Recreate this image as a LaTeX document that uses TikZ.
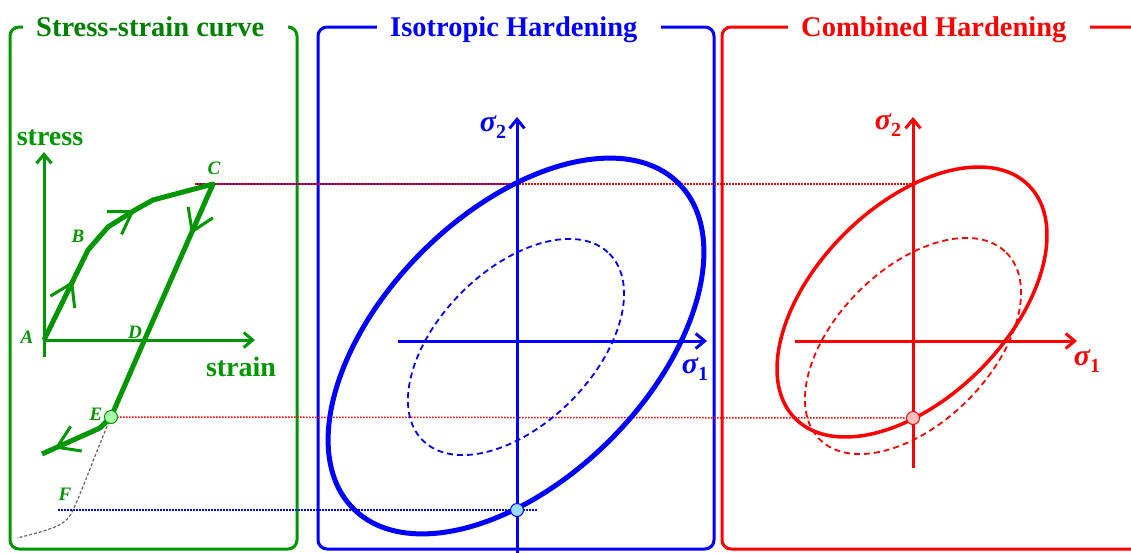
\documentclass[tikz,border=0pt]{standalone}
\usepackage{fontspec}
\setmainfont{Liberation Serif}
\usetikzlibrary{arrows.meta,calc,decorations.markings}
\definecolor{curveGreen}{RGB}{0,150,0}
\definecolor{titleGreen}{RGB}{0,128,0}
\definecolor{isoBlue}{RGB}{0,0,255}
\definecolor{combRed}{RGB}{255,0,0}
\definecolor{pathGray}{RGB}{100,100,100}
\newcommand{\sigmalab}[1]{\fontsize{30}{30}\selectfont\bfseries\itshape σ\raisebox{-7pt}{\upshape\fontsize{20}{20}\selectfont #1}}

\begin{document}
\begin{tikzpicture}[x=1pt,y=-1pt,
  frame/.style={line width=3pt,rounded corners=9pt},
  paneltitle/.style={anchor=base west,fill=white,inner xsep=13pt,inner ysep=3pt,font=\fontsize{28.5}{30}\selectfont\bfseries},
  axis/.style={line width=3pt,-{Straight Barb[length=9pt,width=15pt]}},
  axislabel/.style={font=\fontsize{28}{30}\selectfont\bfseries,text=curveGreen,inner sep=0pt},
  ptlabel/.style={font=\fontsize{19}{19}\selectfont\bfseries\itshape,text=curveGreen,inner sep=0pt},
  siglabel/.style={inner sep=0pt},
  tickat/.style={postaction={decorate,decoration={markings,mark=at position #1 with {\arrow[line width=3pt]{Straight Barb[length=21pt,width=27pt]}}}}},
  loading/.style={line width=5pt,line join=round,curveGreen},
  surface/.style={line width=#1},
  initial/.style={line width=1.8pt,dash pattern=on 6pt off 4pt},
  dotline/.style={line width=1.5pt,dash pattern=on 1.5pt off 1.5pt},
  hitpt/.style={circle,minimum size=13pt,inner sep=0pt,line width=1pt}
]
\useasboundingbox (0,0) rectangle (1131,552);
\clip (0,0) rectangle (1131,552);

\draw[frame,curveGreen] (10,27) rectangle (297,549);
\draw[frame,isoBlue] (318,27) rectangle (714,549);
\draw[frame,combRed] (722,27) rectangle (1170,549);
\node[paneltitle,text=titleGreen] (sstitle) at (23,36) {Stress-strain curve\hspace*{11pt}};
\node[paneltitle,text=isoBlue] (isotitle) at (377,36) {Isotropic Hardening\hspace*{11pt}};
\node[paneltitle,text=combRed] (combtitle) at (788,36) {Combined Hardening\hspace*{11pt}};

\coordinate (A) at (44,340);
\coordinate (B) at (88,250);
\coordinate (C) at (213,184);
\coordinate (D) at (144.5,340);
\coordinate (E) at (111,417);
\coordinate (F) at (73,510);
\coordinate (Cl) at (195,184);
\coordinate (Fl) at (58,510);
\coordinate (isoTop) at (517,184);
\coordinate (isoBot) at (517,510);
\coordinate (isoEnd) at (537,510);
\coordinate (combTop) at (913,184);
\coordinate (combBot) at (913,418);

\draw[dotline,combRed] (Cl) -- (combTop);
\draw[dotline,isoBlue,dash phase=1.5pt] (Cl) -- (isoTop);
\draw[dotline,combRed] (E) -- (combBot);
\draw[dotline,isoBlue] (Fl) -- (isoEnd);

\draw[axis,curveGreen] (44,357) -- (44,152);
\draw[axis,curveGreen] (A) -- (255,340);
\node[axislabel] (stress) at (50,138) {stress};
\node[axislabel] (strain) at (241,367) {strain};

\draw[pathGray,line width=1.2pt,dash pattern=on 3pt off 2pt] (E) .. controls (96,452) and (80,496) .. (F) .. controls (67,524) and (58,528) .. (17,538);
\draw[loading,tickat=66pt,tickat=162pt,tickat=300pt,tickat=565pt] (A) -- (B) -- (108,227) -- (135,210) -- (153,200) -- (C) -- (D) -- (E) -- (100,428) -- (42,454);
\node[hitpt,draw=curveGreen,fill=green!35] (Ept) at (E) {};

\node[ptlabel] (lA) at (27,337) {A};
\node[ptlabel] (lB) at (78,236) {B};
\node[ptlabel] (lC) at (214,168) {C};
\node[ptlabel] (lD) at (135,332) {D};
\node[ptlabel] (lE) at (96,414) {E};
\node[ptlabel] (lF) at (65,494) {F};

\draw[axis,isoBlue] (517,556) -- (517,117);
\draw[axis,isoBlue] (398,341) -- (707,341);
\draw[surface=5pt,isoBlue,rotate around={45:(516,346)}] (516,346) ellipse [x radius=230,y radius=133];
\draw[initial,isoBlue,rotate around={45:(516,347)}] (516,347) ellipse [x radius=132,y radius=77];
\node[hitpt,draw=isoBlue,fill=blue!35!cyan!40] (isoPt) at (isoBot) {};
\node[siglabel,text=isoBlue] (isoS2) at (493,127) {\sigmalab{2}};
\node[siglabel,text=isoBlue] (isoS1) at (695,369) {\sigmalab{1}};

\draw[axis,combRed] (913,468) -- (913,117);
\draw[axis,combRed] (795,341) -- (1077,341);
\draw[surface=3.5pt,combRed,rotate around={45:(912,302)}] (912,302) ellipse [x radius=165,y radius=96];
\draw[initial,combRed,rotate around={45:(913,346)}] (913,346) ellipse [x radius=132,y radius=77];
\node[hitpt,draw=combRed,fill=red!25] (combPt) at (combBot) {};
\node[siglabel,text=combRed] (combS2) at (888,125) {\sigmalab{2}};
\node[siglabel,text=combRed] (combS1) at (1087,361) {\sigmalab{1}};
\end{tikzpicture}
\end{document}
